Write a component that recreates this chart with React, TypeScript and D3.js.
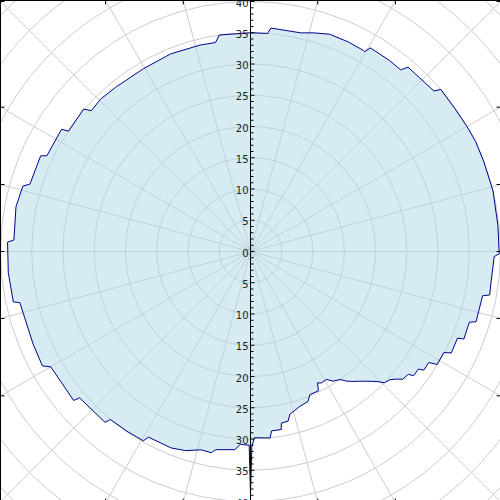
import React from "react";
import * as d3 from "d3";

// outline of the polar area: compass angle (deg, clockwise from top) and radius
const angles = [
  0, 4.5, 5.2, 13, 16, 20, 25, 29.3, 29.7, 30.5, 36, 39.6, 40.5, 45, 48.8, 49.6,
  55, 60, 64, 69, 76, 84, 90.5, 91.2, 97.5, 100.3, 100.8, 107.3, 107.9, 112.3,
  112.7, 116.8, 117.6, 121.2, 121.9, 124.4, 125, 127.3, 127.9, 130, 131.2, 132.6,
  134.4, 136, 138.3, 140, 141.7, 143.5, 145, 147.5, 149.3, 151.6, 153, 154, 157.5,
  159, 162.3, 166.4, 167.5, 169.8, 170.2, 173.3, 174, 178.8, 179.6, 180, 180.4,
  183, 184.5, 190, 191, 194, 198, 202, 208.8, 209.5, 214.5, 219.8, 220.4, 229.4,
  229.9, 240, 241.2, 247, 257.5, 258, 265, 272.2, 272.8, 280.8, 286, 287, 294.5,
  295.2, 302.9, 303.5, 310.5, 311.5, 315.5, 320.6, 329.7, 338, 346.3, 350.5,
  351.8, 360,
];
const radii = [
  35.0, 35.0, 35.9, 35.9, 36.4, 37.0, 37.0, 36.9, 36.8, 37.8, 37.8, 37.7, 38.8,
  38.8, 39.0, 40.0, 39.9, 40.0, 40.1, 40.0, 40.0, 39.8, 39.8, 39.0, 38.8, 38.9,
  37.8, 37.8, 36.8, 36.9, 35.9, 36.0, 34.9, 34.9, 33.6, 33.6, 32.8, 32.8, 32.0,
  31.8, 31.0, 30.3, 30.0, 28.9, 27.8, 27.1, 26.5, 25.8, 25.0, 24.6, 23.8, 23.9,
  23.6, 24.8, 24.8, 25.7, 26.0, 26.8, 27.8, 27.9, 28.9, 28.9, 30.0, 29.8, 31.2,
  38.8, 31.0, 30.9, 31.8, 32.2, 32.8, 32.7, 33.5, 33.9, 33.9, 34.8, 34.9, 35.0,
  35.9, 36.0, 37.0, 36.9, 38.0, 37.8, 37.8, 38.8, 38.9, 38.9, 37.9, 38.2, 37.9,
  36.9, 36.9, 36.0, 36.0, 34.9, 35.1, 34.0, 34.2, 34.0, 33.9, 34.1, 34.0, 33.9,
  35.0, 35.0,
];

const ringValues = [5, 10, 15, 20, 25, 30, 35, 40, 45, 50, 55, 60];
const spokeAngles = [0, 15, 30, 45, 60, 75, 90, 105, 120, 135, 150, 165, 180, 195, 210, 225, 240, 255, 270, 285, 300, 315, 330, 345];
const upperLabels = [0, 5, 10, 15, 20, 25, 30, 35, 40];
const lowerLabels = [5, 10, 15, 20, 25, 30, 35, 40];

export default function App() {
  const W = 500, H = 500;
  const cx = 250.5, cy = 251.5;
  const fx0 = 0.5, fy0 = 0.5, fx1 = 500.5, fy1 = 502.5;
  const r = d3.scaleLinear().domain([0, 40]).range([0, 250]);
  const rad = (a: number) => (a * Math.PI) / 180;

  const pts: [number, number][] = angles.map((a, i) => [rad(a), radii[i]]);
  const area = d3.areaRadial<[number, number]>()
    .angle(d => d[0]).innerRadius(0).outerRadius(d => r(d[1]));
  const line = d3.lineRadial<[number, number]>()
    .angle(d => d[0]).radius(d => r(d[1]));

  // where each spoke meets the frame
  const frameTicks = spokeAngles.map(a => {
    const dx = Math.sin(rad(a)), dy = -Math.cos(rad(a));
    const ts: number[] = [];
    if (dx > 1e-9) ts.push((fx1 - cx) / dx);
    if (dx < -1e-9) ts.push((fx0 - cx) / dx);
    if (dy > 1e-9) ts.push((fy1 - cy) / dy);
    if (dy < -1e-9) ts.push((fy0 - cy) / dy);
    const t = Math.min(...ts);
    const x = cx + dx * t, y = cy + dy * t;
    const L = 4;
    if (Math.abs(y - fy0) < 0.01) return { x1: x, y1: y, x2: x, y2: y + L };
    if (Math.abs(y - fy1) < 0.01) return { x1: x, y1: y, x2: x, y2: y - L };
    if (Math.abs(x - fx0) < 0.01) return { x1: x, y1: y, x2: x + L, y2: y };
    return { x1: x, y1: y, x2: x - L, y2: y };
  });

  const axisTicks = d3.range(-40, 41);

  return (
    <svg width={W} height={H} style={{ position: "absolute", left: 0, top: 0, background: "#fff" }}>
      <defs>
        <clipPath id="frame-clip">
          <rect x={fx0} y={fy0} width={fx1 - fx0} height={fy1 - fy0} />
        </clipPath>
      </defs>
      <g clipPath="url(#frame-clip)">
        <g stroke="#cccccc" strokeWidth={1} fill="none">
          {ringValues.map(v => (
            <circle key={v} cx={cx} cy={cy} r={r(v)} />
          ))}
          {spokeAngles.map(a => (
            <line key={a} x1={cx} y1={cy}
              x2={cx + Math.sin(rad(a)) * 600} y2={cy - Math.cos(rad(a)) * 600} />
          ))}
        </g>
        <g transform={`translate(${cx},${cy})`}>
          <path d={area(pts) || ""} fill="#add8e6" fillOpacity={0.5} />
          <path d={line(pts) || ""} fill="none" stroke="#00008b" strokeWidth={1} />
        </g>
        <line x1={cx} y1={0} x2={cx} y2={H} stroke="#000" strokeWidth={1} />
        {axisTicks.map(v => (
          <line key={v} x1={cx} x2={cx + (v % 5 === 0 ? 4 : 3)}
            y1={cy - r(v)} y2={cy - r(v)} stroke="#000" strokeWidth={1} />
        ))}
        <g fontFamily="DejaVu Sans" fontSize={10} fill="#222" textAnchor="end">
          {upperLabels.map(v => (
            <text key={"u" + v} x={cx - 2} y={cy - r(v) + 1.7} dominantBaseline="central">{v}</text>
          ))}
          {lowerLabels.map(v => (
            <text key={"l" + v} x={cx - 2} y={cy + r(v) + 1.7} dominantBaseline="central">{v}</text>
          ))}
        </g>
      </g>
      <g stroke="#000" strokeWidth={1}>
        {frameTicks.map((t, i) => (
          <line key={i} x1={t.x1} y1={t.y1} x2={t.x2} y2={t.y2} />
        ))}
      </g>
      <rect x={fx0} y={fy0} width={fx1 - fx0} height={fy1 - fy0} fill="none" stroke="#000" strokeWidth={1} />
    </svg>
  );
}
